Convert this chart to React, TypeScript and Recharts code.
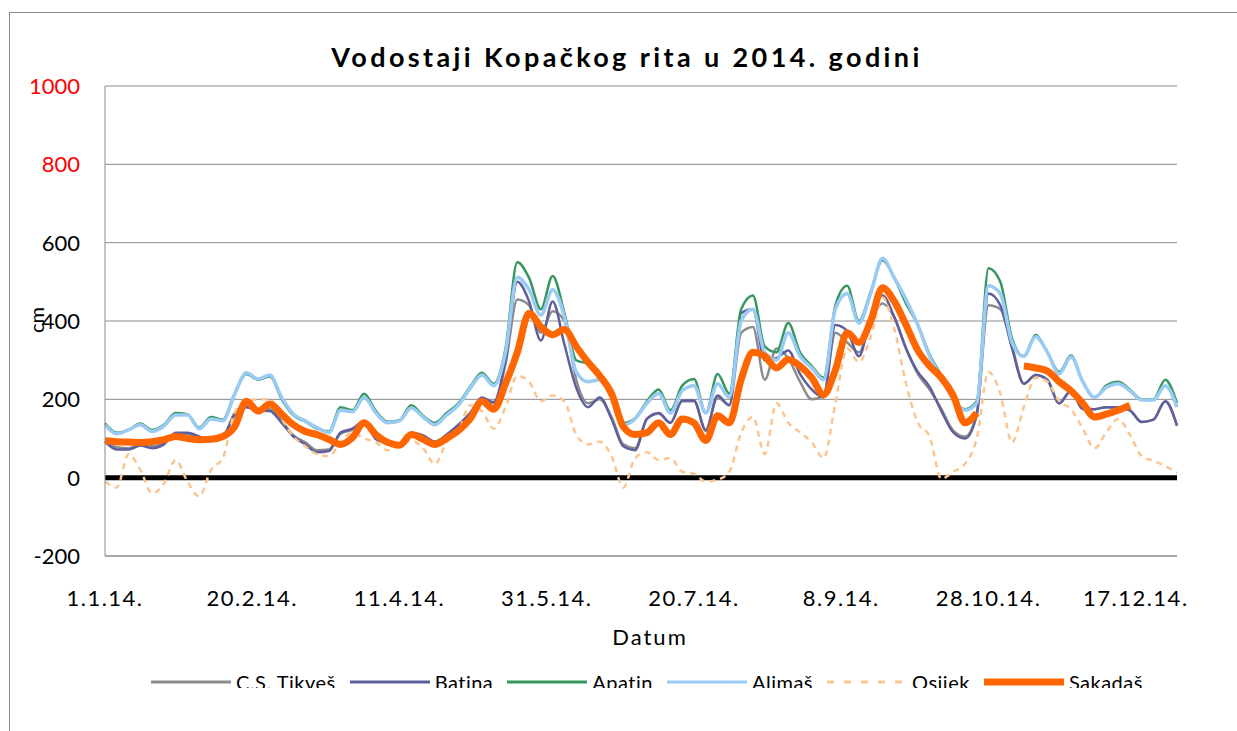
import React from "react";
import { LineChart, Line, XAxis, YAxis, CartesianGrid, ReferenceLine } from "recharts";

// Day of year (0 = 1.1.2014), sampled every 4 days
const DAYS = [0,4,8,12,16,20,24,28,32,36,40,44,48,52,56,60,64,68,72,76,80,84,88,92,96,100,104,108,112,116,120,124,128,132,136,140,144,148,152,156,160,164,168,172,176,180,184,188,192,196,200,204,208,212,216,220,224,228,232,236,240,244,248,252,256,260,264,268,272,276,280,284,288,292,296,300,304,308,312,316,320,324,328,332,336,340,344,348,352,356,360,364];

const TIKVES = [95,78,75,85,80,88,112,112,100,98,105,165,185,175,175,145,108,90,70,72,112,122,140,100,90,86,112,106,92,108,132,165,200,190,290,455,440,370,425,400,250,190,200,155,85,75,150,163,140,195,195,122,205,185,370,385,250,330,305,245,200,210,370,345,320,400,445,410,330,265,225,175,120,105,165,440,430,335,240,262,248,190,222,180,175,180,178,172,142,148,195,133];

const BATINA = [92,72,72,82,75,85,115,115,105,95,105,160,180,172,170,140,105,85,65,68,115,125,145,98,88,83,115,108,92,110,135,165,205,193,300,500,450,350,450,340,230,180,205,150,80,70,150,165,140,197,197,120,210,185,420,430,300,305,325,265,225,205,390,375,310,410,465,410,330,270,232,170,116,100,160,470,440,330,240,262,250,190,222,175,175,180,180,172,142,148,195,133];

const APATIN = [139,115,122,138,122,135,165,162,128,155,148,215,265,250,258,200,159,143,125,118,180,172,214,170,143,147,185,158,140,165,190,232,268,240,330,550,510,430,515,420,300,290,255,205,140,152,195,225,172,235,252,165,265,215,430,465,335,320,395,320,285,255,440,490,400,475,555,510,445,390,315,260,200,175,195,535,500,355,310,365,320,270,312,245,205,235,245,225,200,200,250,190];

const ALIMAS = [135,112,122,135,118,132,160,160,125,150,145,212,268,252,262,205,162,145,128,115,172,168,205,165,140,145,178,155,135,160,185,228,262,235,320,512,480,415,480,410,270,245,250,205,135,150,190,215,165,222,235,165,240,205,400,430,320,300,370,310,280,250,430,470,395,470,560,510,455,390,310,255,200,172,190,490,470,345,310,360,320,265,308,245,205,230,240,222,198,198,235,180];

const OSIJEK = [-10,-25,60,20,-40,-15,45,-10,-48,20,50,165,195,200,200,150,105,80,60,55,90,115,100,90,70,80,95,75,35,90,120,185,170,125,180,260,245,195,210,195,110,85,92,55,-25,50,65,45,50,15,10,-10,-5,15,115,155,60,190,140,116,90,50,190,330,295,360,460,380,240,140,105,-3,15,35,100,270,215,90,180,255,245,195,175,125,75,116,150,110,55,43,30,12];

const SAKADAS: (number | null)[] = [94,92,91,90,92,97,105,100,97,98,105,130,195,170,188,162,135,118,110,98,85,102,140,110,90,83,110,98,85,100,120,150,195,175,240,320,420,385,365,378,335,295,260,215,130,110,115,140,110,150,140,95,158,140,250,320,310,280,302,285,255,212,275,370,345,400,485,450,390,325,285,255,210,140,165,null,null,null,285,280,272,245,222,190,155,162,172,185,null,null,null,null];

const TICK_DAYS = [0, 50, 100, 150, 200, 250, 300, 350];
const TICK_LABELS = ["1.1.14.", "20.2.14.", "11.4.14.", "31.5.14.", "20.7.14.", "8.9.14.", "28.10.14.", "17.12.14."];
const Y_TICKS = [-200, 0, 200, 400, 600, 800, 1000];

const SERIES = [
  { key: "tikves", name: "C.S. Tikveš", values: TIKVES, color: "#8C8C8C", width: 2.5, dash: undefined as string | undefined },
  { key: "batina", name: "Batina", values: BATINA, color: "#5F5F9E", width: 2.5, dash: undefined },
  { key: "apatin", name: "Apatin", values: APATIN, color: "#34975F", width: 2.5, dash: undefined },
  { key: "alimas", name: "Alimaš", values: ALIMAS, color: "#9ACBF4", width: 3.5, dash: undefined },
  { key: "osijek", name: "Osijek", values: OSIJEK, color: "#FBC592", width: 2.5, dash: "6 5" },
  { key: "sakadas", name: "Sakadaš", values: SAKADAS, color: "#FF6600", width: 7, dash: undefined },
];

const DATA = DAYS.map((d, i) => {
  const row: Record<string, number | null> = { day: d };
  SERIES.forEach((s) => {
    row[s.key] = s.values[i] as number | null;
  });
  return row;
});

const FONT = "Lato, 'Open Sans', sans-serif";

const YTick = (props: any) => {
  const { x, y, payload } = props;
  const red = payload.value >= 800;
  return (
    <text x={x - 25} y={y} dy={8} textAnchor="end" fill={red ? "#FF0000" : "#000"} fontSize={22} fontFamily={FONT}>
      {payload.value}
    </text>
  );
};

const XTick = (props: any) => {
  const { x, y, payload } = props;
  const idx = TICK_DAYS.indexOf(payload.value);
  return (
    <text x={x} y={y + 50} textAnchor="middle" fill="#000" fontSize={22} fontFamily={FONT} letterSpacing={1.5}>
      {TICK_LABELS[idx]}
    </text>
  );
};

export default function App() {
  return (
    <div style={{ position: "fixed", left: 0, top: 0, width: 1237, height: 731, overflow: "hidden", background: "#fff", fontFamily: FONT }}>
      {/* frame */}
      <div style={{ position: "absolute", left: 9, top: 12, width: 1240, height: 760, borderLeft: "1px solid #8a8a8a", borderTop: "1px solid #8a8a8a" }} />
      <div style={{ position: "absolute", left: 0, top: 0, width: 1237, height: 731 }}>
        <LineChart width={1237} height={731} data={DATA} margin={{ top: 86, right: 60, bottom: 115, left: 0 }}>
          <CartesianGrid vertical={false} stroke="#8a8a8a" strokeWidth={1} />
          <XAxis
            type="number"
            dataKey="day"
            domain={[0, 364]}
            ticks={TICK_DAYS}
            tick={<XTick />}
            tickLine={false}
            tickSize={0}
            tickMargin={0}
            height={60}
            axisLine={{ stroke: "#8a8a8a" }}
            interval={0}
          />
          <YAxis
            type="number"
            domain={[-200, 1000]}
            ticks={Y_TICKS}
            tick={<YTick />}
            tickLine={false}
            tickSize={0}
            tickMargin={0}
            width={105}
            axisLine={{ stroke: "#8a8a8a" }}
            interval={0}
          />
          <ReferenceLine y={0} stroke="#000" strokeWidth={5} />
          {SERIES.map((s) => (
            <Line
              key={s.key}
              dataKey={s.key}
              name={s.name}
              type="monotone"
              stroke={s.color}
              strokeWidth={s.width}
              strokeDasharray={s.dash}
              dot={false}
              activeDot={false}
              connectNulls={false}
              isAnimationActive={false}
            />
          ))}
        </LineChart>
      </div>
      {/* title */}
      <div style={{ position: "absolute", left: 0, width: 1254, top: 41, textAlign: "center", fontSize: 27, fontWeight: 700, letterSpacing: 3.4, lineHeight: "32px", color: "#000" }}>
        Vodostaji Kopačkog rita u 2014. godini
      </div>
      {/* y label */}
      <div style={{ position: "absolute", left: 36, top: 320, transform: "translate(-50%, -50%) rotate(-90deg)", fontSize: 20, lineHeight: "22px", whiteSpace: "nowrap" }}>
        cm
      </div>
      {/* x label */}
      <div style={{ position: "absolute", left: 0, width: 1300, top: 624, textAlign: "center", fontSize: 22, letterSpacing: 2, lineHeight: "26px" }}>
        Datum
      </div>
      {/* legend */}
      <div style={{ position: "absolute", left: 151, top: 660, height: 28, overflow: "hidden", display: "flex", alignItems: "flex-start", whiteSpace: "nowrap" }}>
        {SERIES.map((s) => (
          <div key={s.key} style={{ display: "flex", alignItems: "flex-start", marginRight: 14 }}>
            <svg width={80} height={28} style={{ display: "block" }}>
              <line
                x1={0}
                x2={80}
                y1={22}
                y2={22}
                stroke={s.color}
                strokeWidth={s.key === "sakadas" ? 7 : 3}
                strokeDasharray={s.dash ? "7 10" : undefined}
              />
            </svg>
            <span style={{ marginLeft: 5, marginTop: 12, fontSize: 20, lineHeight: "20px", letterSpacing: 0.5, color: "#000" }}>{s.name}</span>
          </div>
        ))}
      </div>
    </div>
  );
}
